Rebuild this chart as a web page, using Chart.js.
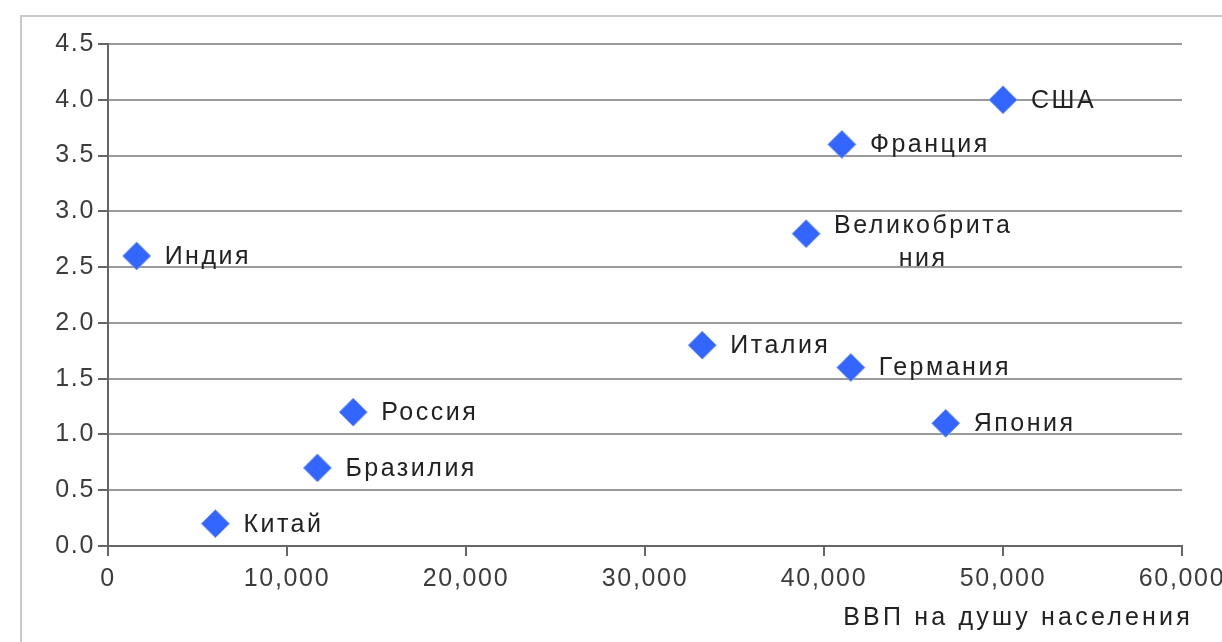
<!DOCTYPE html>
<html>
<head>
<meta charset="utf-8">
<script src="https://cdn.jsdelivr.net/npm/chart.js@4.4.0/dist/chart.umd.min.js"></script>
<style>
    html, body { margin: 0; padding: 0; background: #fff; overflow: hidden; }
    #wrap { position: relative; width: 1222px; height: 642px; overflow: hidden; }
    #marco { position: absolute; left: 20px; top: 15px; width: 1300px; height: 700px; border: 2px solid #c8c8c8; }
    canvas { position: absolute; left: 0; top: 0; }
</style>
</head>
<body>
<div id="wrap">
    <div id="marco"></div>
    <canvas id="grafico" width="1222" height="642"></canvas>
</div>
<script>
// datos del grafico
const paises = ['США', 'Франция', 'Великобритания', 'Индия', 'Италия', 'Германия', 'Япония', 'Россия', 'Бразилия', 'Китай'];
const vvp = [50000, 41000, 39000, 1600, 33200, 41500, 46800, 13700, 11700, 6000];
const valores = [4.0, 3.6, 2.8, 2.6, 1.8, 1.6, 1.1, 1.2, 0.7, 0.2];
const ticksX = [0, 10000, 20000, 30000, 40000, 50000, 60000];
const ticksY = [0, 0.5, 1.0, 1.5, 2.0, 2.5, 3.0, 3.5, 4.0, 4.5];
const tituloX = 'ВВП на душу населения';

const fuente = "'Liberation Sans', Arial, sans-serif";

// espaciado de letras de los ticks
const espaciado = {
    id: 'espaciado',
    beforeLayout(chart) { chart.ctx.letterSpacing = '1.7px'; },
    beforeDraw(chart) { chart.ctx.letterSpacing = '1.7px'; }
};

// partir texto largo en varias lineas
function partirTexto(ctx, texto, maxAncho) {
    const lineas = [];
    let actual = '';
    for (const c of texto) {
        if (ctx.measureText(actual + c).width > maxAncho && actual) {
            lineas.push(actual);
            actual = c;
        } else {
            actual += c;
        }
    }
    lineas.push(actual);
    return lineas;
}

// etiquetas de los paises y titulo del eje x
const etiquetas = {
    id: 'etiquetas',
    afterDatasetsDraw(chart) {
        const ctx = chart.ctx;
        const meta = chart.getDatasetMeta(0);
        ctx.save();
        ctx.font = '25px ' + fuente;
        ctx.letterSpacing = '2.5px';
        ctx.fillStyle = '#222';
        ctx.textBaseline = 'middle';
        ctx.textAlign = 'center';
        meta.data.forEach((p, i) => {
            const lineas = partirTexto(ctx, paises[i], 185);
            const ancho = Math.max(...lineas.map(l => ctx.measureText(l).width));
            const cx = p.x + 28 + ancho / 2;
            let y = p.y + 1 - 9 * (lineas.length - 1);
            lineas.forEach(l => {
                ctx.fillText(l, cx, y);
                y += 33;
            });
        });

        // titulo del eje x
        ctx.letterSpacing = '3.2px';
        ctx.textAlign = 'right';
        ctx.fillText(tituloX, chart.chartArea.right + 11, chart.scales.x.bottom - 24);
        ctx.restore();
    }
};

const ctx = document.getElementById('grafico').getContext('2d');
new Chart(ctx, {
    type: 'scatter',
    data: {
        datasets: [{
            data: vvp.map((v, i) => ({ x: v, y: valores[i] })),
            pointStyle: 'rectRot',
            pointRadius: 14,
            pointHoverRadius: 14,
            backgroundColor: '#3366ff',
            borderColor: '#7f9cff',
            borderWidth: 1
        }]
    },
    options: {
        responsive: false,
        animation: false,
        events: [],
        layout: { padding: { left: 0, top: 44, right: 40, bottom: 0 } },
        plugins: {
            legend: { display: false },
            tooltip: { enabled: false }
        },
        scales: {
            x: {
                type: 'linear',
                position: 'bottom',
                min: 0,
                max: 60000,
                afterBuildTicks: (s) => { s.ticks = ticksX.map(v => ({ value: v })); },
                afterFit: (s) => { s.height = 96; s.paddingLeft = 0; s.paddingRight = 0; },
                grid: { drawOnChartArea: false, color: '#666', lineWidth: 2, tickLength: 10 },
                border: { color: '#666', width: 2 },
                ticks: {
                    font: { size: 25, family: fuente },
                    color: '#3c3c3c',
                    padding: 8,
                    maxRotation: 0,
                    callback: (v) => v.toLocaleString('en-US')
                }
            },
            y: {
                min: 0,
                max: 4.5,
                afterBuildTicks: (s) => { s.ticks = ticksY.map(v => ({ value: v })); },
                afterFit: (s) => { s.width = 108; s.paddingTop = 0; s.paddingBottom = 0; },
                grid: { color: '#9a9a9a', lineWidth: 2, tickLength: 10, tickColor: '#666' },
                border: { color: '#666', width: 2 },
                ticks: {
                    font: { size: 25, family: fuente },
                    color: '#3c3c3c',
                    padding: 3,
                    callback: (v) => v.toFixed(1)
                }
            }
        }
    },
    plugins: [espaciado, etiquetas]
});
</script>
</body>
</html>
